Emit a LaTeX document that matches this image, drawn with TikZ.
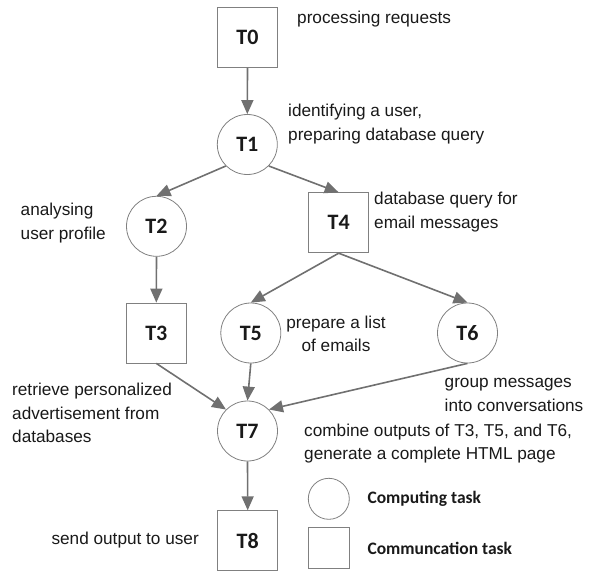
\documentclass[tikz,border=0pt]{standalone}
\usepackage{fontspec}
\setmainfont{Liberation Sans}
\newfontfamily\calb{Carlito}[BoldFont={Carlito Bold}]
\usetikzlibrary{arrows.meta,shapes.geometric}
\definecolor{edgegray}{RGB}{112,112,112}
\definecolor{bordergray}{RGB}{128,128,128}
\definecolor{txt}{RGB}{25,25,25}
\begin{document}
\begin{tikzpicture}[x=1pt,y=-1pt,
  comp/.style={draw=bordergray,line width=0.8pt,circle,minimum size=60pt,inner sep=0pt,font=\calb\bfseries\fontsize{22}{22}\selectfont,text=txt},
  comm/.style={draw=bordergray,line width=0.8pt,rectangle,minimum width=60pt,minimum height=60pt,inner sep=0pt,font=\calb\bfseries\fontsize{22}{22}\selectfont,text=txt},
  note/.style={font=\fontsize{17.2}{23.5}\selectfont,text=txt,inner sep=0pt,align=left},
  legtxt/.style={font=\calb\bfseries\fontsize{17.5}{17.5}\selectfont,text=txt,inner sep=0pt,anchor=west},
  flow/.style={draw=edgegray,line width=1.6pt,-{Triangle[length=14pt,width=12pt]}}]
\useasboundingbox (0,0) rectangle (596,572);
% nodes
\node[comm] (T0) at (247.5,37.5) {T0};
\node[comp] (T1) at (247.3,144.5) {T1};
\node[comp] (T2) at (156.5,226.3) {T2};
\node[comm] (T4) at (338.7,222.8) {T4};
\node[comm] (T3) at (156.3,333) {T3};
\node[comp] (T5) at (250.8,333) {T5};
\node[comp] (T6) at (467.5,333) {T6};
\node[comp] (T7) at (247.5,431) {T7};
\node[comm] (T8) at (247.7,540.7) {T8};
% legend
\node[draw=bordergray,line width=0.8pt,ellipse,minimum width=41pt,minimum height=41pt,inner sep=0pt] (Lc) at (328.8,498.8) {};
\node[draw=bordergray,line width=0.8pt,rectangle,minimum width=41pt,minimum height=41pt,inner sep=0pt] (Lb) at (328.8,547.8) {};
\node[legtxt] (Lct) at (367.3,499.3) {Computing task};
\node[legtxt] (Lbt) at (367.3,548.3) {Communcation task};
% notes
\node[note,anchor=west] (n0) at (297,19) {processing requests};
\node[note,anchor=west] (n1) at (288,124) {identifying a user,\\preparing database query};
\node[note,anchor=west] (n2) at (20.5,223) {analysing\\user profile};
\node[note,anchor=west] (n4) at (374,212) {database query for\\email messages};
\node[note,anchor=center,align=center] (n5) at (336,334) {prepare a list\\of emails};
\node[note,anchor=west] (n6) at (444.5,395) {group messages\\into conversations};
\node[note,anchor=west] (n3) at (12,413) {retrieve personalized\\advertisement from\\databases};
\node[note,anchor=west] (n7) at (304,443.5) {combine outputs of T3, T5, and T6,\\generate a complete HTML page};
\node[note,anchor=east] (n8) at (199,540) {send output to user};
% edges
\draw[flow] (T0.south) -- (T1.north);
\draw[flow] (T1.south west) -- (T2.north);
\draw[flow] (T1.south east) -- (T4.north);
\draw[flow] (T2.south) -- (T3.north);
\draw[flow] (T4.south) -- (T5.north);
\draw[flow] (T4.south) -- (T6.north);
\draw[flow] (T3.south) -- (T7.north west);
\draw[flow] (T5.south) -- (T7.north);
\draw[flow] (T6.south) -- (T7.north east);
\draw[flow] (T7.south) -- (T8.north);
\end{tikzpicture}
\end{document}
